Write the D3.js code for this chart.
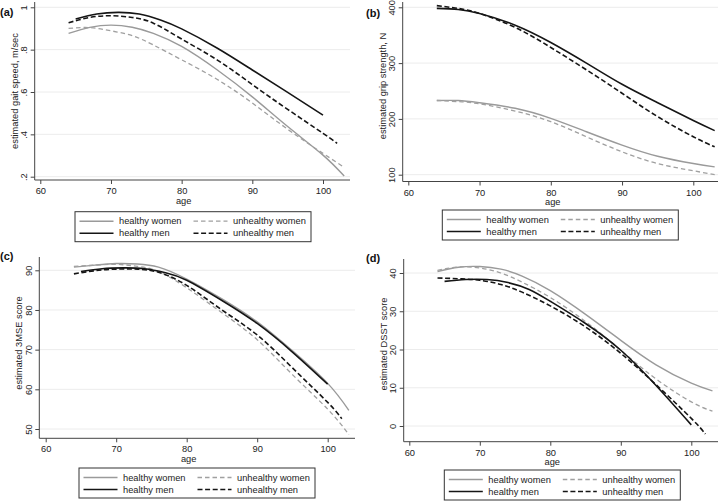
<!DOCTYPE html>
<html><head><meta charset="utf-8">
<script src="https://cdn.jsdelivr.net/npm/d3@7"></script>
<style>
body{margin:0;background:#fff}
svg{display:block}
text{font-family:"Liberation Sans",Arial,Helvetica,sans-serif;fill:#222}
</style>
</head><body>
<svg id="chart" width="720" height="501"></svg>
<script>
// ---------------- data ----------------
const seriesNames = ["healthy women", "unhealthy women", "healthy men", "unhealthy men"];
const xTicks = [60, 70, 80, 90, 100];

// (a) gait speed
const gaitAgesHW = [64, 67, 70, 73, 76, 80, 85, 90, 95, 100, 103];
const gaitHW = [0.877, 0.905, 0.916, 0.906, 0.877, 0.815, 0.705, 0.577, 0.437, 0.302, 0.203];
const gaitAgesUW = [64, 67, 70, 73, 76, 80, 85, 90, 95, 100, 103];
const gaitUW = [0.900, 0.904, 0.889, 0.866, 0.822, 0.752, 0.660, 0.548, 0.424, 0.310, 0.244];
const gaitAgesHM = [65, 68, 71, 74, 77, 80, 85, 90, 95, 100];
const gaitHM = [0.945, 0.968, 0.976, 0.968, 0.940, 0.898, 0.808, 0.704, 0.598, 0.491];
const gaitAgesUM = [64, 67, 70, 73, 76, 80, 85, 90, 95, 100, 102];
const gaitUM = [0.927, 0.952, 0.960, 0.952, 0.925, 0.850, 0.752, 0.635, 0.518, 0.405, 0.357];
const gaitTicks = [0.2, 0.4, 0.6, 0.8, 1];
const gaitTickLabels = [".2", ".4", ".6", ".8", "1"];

// (b) grip strength
const gripAges = [64, 67, 70, 75, 80, 85, 90, 95, 100, 103];
const gripHW = [233, 233, 229, 219, 201, 177, 153, 133, 120, 114];
const gripUW = [233, 231, 227, 214, 195, 168, 141, 120, 107, 100];
const gripHM = [398, 396, 389, 368, 337, 300, 262, 229, 197, 179];
const gripUM = [403, 398, 389, 364, 328, 288, 246, 204, 168, 150];
const gripTicks = [100, 200, 300, 400];
const gripTickLabels = ["100", "200", "300", "400"];

// (c) 3MSE
const mmseAgesW = [64, 67, 70, 73, 76, 80, 85, 90, 95, 100, 103];
const mmseHW = [90.8, 91.3, 91.7, 91.6, 90.8, 87.8, 82.8, 77.0, 69.7, 61.5, 54.7];
const mmseUW = [91.0, 91.3, 91.5, 91.0, 89.7, 85.6, 79.3, 72.5, 63.7, 55.0, 48.6];
const mmseAgesHM = [65, 68, 71, 74, 77, 80, 85, 90, 95, 100];
const mmseHM = [89.7, 90.4, 90.6, 90.4, 89.4, 87.5, 82.4, 76.6, 69.4, 61.3];
const mmseAgesUM = [64, 67, 70, 73, 76, 80, 85, 90, 95, 100, 102];
const mmseUM = [89.1, 89.9, 90.3, 90.3, 89.5, 86.2, 80.0, 73.7, 65.4, 56.7, 52.6];
const mmseTicks = [50, 60, 70, 80, 90];
const mmseTickLabels = ["50", "60", "70", "80", "90"];

// (d) DSST
const dsstAgesW = [64, 67, 70, 73, 76, 80, 85, 90, 95, 100, 103];
const dsstHW = [40.4, 41.5, 41.7, 41.0, 39.2, 35.4, 29.2, 22.4, 16.0, 11.2, 9.2];
const dsstUW = [40.7, 41.6, 41.3, 40.0, 37.6, 33.6, 27.3, 19.8, 12.3, 6.3, 3.9];
const dsstAgesHM = [65, 68, 71, 74, 77, 80, 85, 90, 95, 100];
const dsstHM = [37.8, 38.3, 38.3, 37.5, 35.7, 32.6, 26.8, 19.8, 10.6, 0.3];
const dsstAgesUM = [64, 67, 70, 73, 76, 80, 85, 90, 95, 100, 102];
const dsstUM = [38.7, 38.5, 38.1, 37.0, 35.0, 31.4, 25.9, 19.0, 10.8, 2.0, -2.1];
const dsstTicks = [0, 10, 20, 30, 40];
const dsstTickLabels = ["0", "10", "20", "30", "40"];

// ---------------- styles ----------------
const styles = {
  "healthy women":   {stroke: "#9a9a9a", width: 1.4, dash: null},
  "unhealthy women": {stroke: "#a0a0a0", width: 1.3, dash: "4.5,3"},
  "healthy men":     {stroke: "#151515", width: 1.6, dash: null},
  "unhealthy men":   {stroke: "#151515", width: 1.6, dash: "5,2.6"}
};

const panels = [
  {tag: "(a)", tagX: 0, tagY: 16, ytitle: "estimated gait speed, m/sec",
   axX: 34.7, right: 350, top: 2, axY: 180, xr: [40.3, 323], yd: [0.2, 1], yr: [176.7, 7.3],
   yTitleY: 91, ticks: gaitTicks, tickLabels: gaitTickLabels, leg: [75, 211.7],
   series: [[gaitAgesHW, gaitHW], [gaitAgesUW, gaitUW], [gaitAgesHM, gaitHM], [gaitAgesUM, gaitUM]]},
  {tag: "(b)", tagX: 366, tagY: 17, ytitle: "estimated grip strength, N",
   axX: 402.7, right: 718, top: 2, axY: 181.5, xr: [408.3, 693.3], yd: [100, 400], yr: [174.7, 7.3],
   yTitleY: 86, ticks: gripTicks, tickLabels: gripTickLabels, leg: [442.3, 210],
   series: [[gripAges, gripHW], [gripAges, gripUW], [gripAges, gripHM], [gripAges, gripUM]]},
  {tag: "(c)", tagX: 0, tagY: 260, ytitle: "estimated 3MSE score",
   axX: 39.3, right: 355, top: 257, axY: 438.3, xr: [45.7, 327.7], yd: [50, 90], yr: [429, 270.3],
   yTitleY: 343, ticks: mmseTicks, tickLabels: mmseTickLabels, leg: [79, 468],
   series: [[mmseAgesW, mmseHW], [mmseAgesW, mmseUW], [mmseAgesHM, mmseHM], [mmseAgesUM, mmseUM]]},
  {tag: "(d)", tagX: 366, tagY: 262, ytitle: "estimated DSST score",
   axX: 403.7, right: 718, top: 259, axY: 441.7, xr: [409.3, 691.3], yd: [0, 40], yr: [426, 273],
   yTitleY: 344, ticks: dsstTicks, tickLabels: dsstTickLabels, leg: [444.3, 470],
   series: [[dsstAgesW, dsstHW], [dsstAgesW, dsstUW], [dsstAgesHM, dsstHM], [dsstAgesUM, dsstUM]]}
];

const svg = d3.select("#chart");
const FS = 9.3;

panels.forEach(p => {
  const g = svg.append("g");
  const x = d3.scaleLinear().domain([60, 100]).range(p.xr);
  const y = d3.scaleLinear().domain(p.yd).range(p.yr);

  // gridlines
  g.selectAll(".grid").data(p.ticks).enter().append("line")
    .attr("x1", p.axX).attr("x2", p.right)
    .attr("y1", d => y(d)).attr("y2", d => y(d))
    .attr("stroke", "#ececec").attr("stroke-width", 1);

  // y axis
  const yAxis = d3.axisLeft(y).tickValues(p.ticks).tickSize(4)
    .tickFormat((d, i) => p.tickLabels[i]);
  const ya = g.append("g").attr("transform", `translate(${p.axX},0)`).call(yAxis);
  ya.select(".domain").remove();
  ya.selectAll(".tick line").attr("stroke", "#444");
  ya.selectAll(".tick text")
    .attr("x", null).attr("dy", null)
    .attr("transform", "translate(-10.5,0) rotate(-90)")
    .attr("text-anchor", "middle").attr("dominant-baseline", "central")
    .style("font-size", FS + "px").style("fill", "#222");
  g.append("line").attr("x1", p.axX).attr("x2", p.axX).attr("y1", p.top).attr("y2", p.axY)
    .attr("stroke", "#444").attr("stroke-width", 1);

  // x axis
  const xAxis = d3.axisBottom(x).tickValues(xTicks).tickSize(4);
  const xa = g.append("g").attr("transform", `translate(0,${p.axY})`).call(xAxis);
  xa.select(".domain").remove();
  xa.selectAll(".tick line").attr("stroke", "#444");
  xa.selectAll(".tick text").attr("y", 11).attr("dy", null)
    .attr("dominant-baseline", "central")
    .style("font-size", FS + "px").style("fill", "#222");
  g.append("line").attr("x1", p.axX).attr("x2", p.right).attr("y1", p.axY).attr("y2", p.axY)
    .attr("stroke", "#444").attr("stroke-width", 1);

  // axis titles
  g.append("text").attr("x", (p.xr[0] + p.xr[1]) / 2 + 2).attr("y", p.axY + 20.5)
    .attr("text-anchor", "middle").attr("dominant-baseline", "central")
    .style("font-size", FS + "px").text("age");
  g.append("text")
    .attr("transform", `translate(${p.axX - 20},${p.yTitleY}) rotate(-90)`)
    .attr("text-anchor", "middle").attr("dominant-baseline", "central")
    .style("font-size", FS + "px").text(p.ytitle);

  // panel tag
  g.append("text").attr("x", p.tagX).attr("y", p.tagY)
    .style("font-size", "11px").style("font-weight", "bold").style("fill", "#111").text(p.tag);

  // lines
  const line = d3.line().x(d => x(d[0])).y(d => y(d[1])).curve(d3.curveNatural);
  p.series.forEach((s, i) => {
    const st = styles[seriesNames[i]];
    const pts = s[0].map((a, k) => [a, s[1][k]]);
    g.append("path").datum(pts).attr("d", line)
      .attr("fill", "none").attr("stroke", st.stroke).attr("stroke-width", st.width)
      .attr("stroke-dasharray", st.dash).attr("stroke-linecap", "butt");
  });

  // legend
  const [bx, by] = p.leg;
  const lg = g.append("g").attr("transform", `translate(${bx},${by})`);
  lg.append("rect").attr("x", 0).attr("y", 0).attr("width", 236).attr("height", 30)
    .attr("fill", "#fff").attr("stroke", "#333").attr("stroke-width", 1);
  const pos = [[0, 9.5], [1, 9.5], [0, 21.5], [1, 21.5]];
  seriesNames.forEach((nm, i) => {
    const st = styles[nm];
    const col = pos[i][0], ry = pos[i][1];
    const lx0 = col === 0 ? 4.5 : 118.5;
    lg.append("line").attr("x1", lx0).attr("x2", lx0 + 34).attr("y1", ry).attr("y2", ry)
      .attr("stroke", st.stroke).attr("stroke-width", st.width).attr("stroke-dasharray", st.dash);
    lg.append("text").attr("x", lx0 + 39.5).attr("y", ry).attr("dominant-baseline", "central")
      .style("font-size", FS + "px").text(nm);
  });
});
</script>
</body></html>
